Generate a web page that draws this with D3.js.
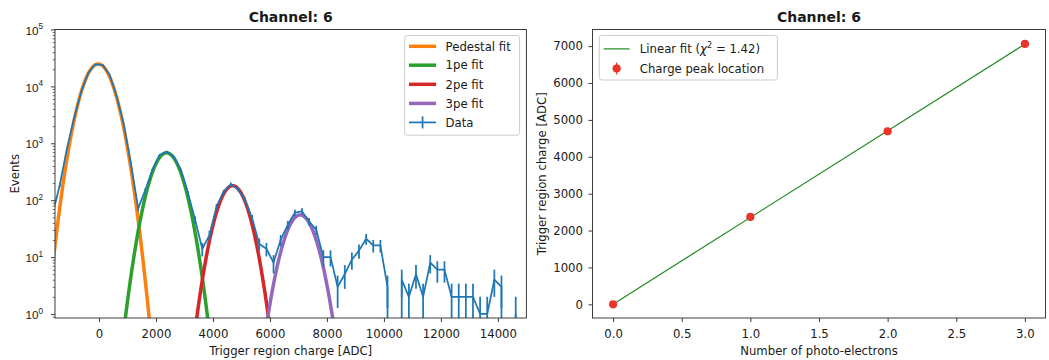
<!DOCTYPE html>
<html>
<head>
<meta charset="utf-8">
<script src="https://cdn.jsdelivr.net/npm/d3@7"></script>
<style>
  html, body { margin: 0; padding: 0; background: #ffffff; }
  svg { display: block; font-family: "DejaVu Sans", sans-serif; }
</style>
</head>
<body>
<svg id="fig" width="1049" height="360"></svg>
<script>
// Trigger region charge histogram: bin centres [ADC] and counts per bin
const binCentres = [
  -1625, -1375, -1125, -875, -625, -375, -125, 125, 375, 625, 875, 1125, 1375,
  1625, 1875, 2125, 2375, 2625, 2875, 3125, 3375, 3625, 3875, 4125, 4375,
  4625, 4875, 5125, 5375, 5625, 5875, 6125, 6375, 6625, 6875, 7125, 7375,
  7625, 7875, 8125, 8375, 8625, 8875, 9125, 9375, 9625, 9875, 10125, 10375,
  10625, 10875, 11125, 11375, 11625, 11875, 12125, 12375, 12625, 12875, 13125,
  13375, 13625, 13875, 14125, 14375, 14625
];
const binCounts = [
  58, 185, 810, 2750, 8000, 17300, 24500, 24000, 15800, 6600, 2100, 420, 72,
  150, 340, 620, 710, 580, 340, 133, 45, 14, 24, 77, 141,
  190, 156, 101, 48, 17, 14, 8, 20, 37, 60, 64, 42,
  30, 10, 10, 3, 5, 9, 13, 21, 16, 16, 3, 0,
  4, 2, 5, 2, 8, 6, 6, 2, 2, 2, 2,
  1, 1, 4, 3, 0, 1
];

// Gaussian fit results for the pedestal and the photo-electron peaks
const fitLabels     = ["Pedestal fit", "1pe fit", "2pe fit", "3pe fit"];
const fitAmplitudes = [24800, 680, 180, 55];
const fitMeans      = [-30, 2370, 4690, 7060];
const fitSigmas     = [395, 395, 385, 395];

// Fitted peak location versus number of photo-electrons
const photoElectrons = [0, 1, 2, 3];
const peakPositions  = [0, 2370, 4690, 7060];
const peakErrors     = [15, 20, 25, 35];
const chiSquare      = 1.42;

// Axis ticks
const histXTicks = [0, 2000, 4000, 6000, 8000, 10000, 12000, 14000];
const histYTicks = [1, 10, 100, 1000, 10000, 100000];
const peXTicks   = [0, 0.5, 1, 1.5, 2, 2.5, 3];
const peYTicks   = [0, 1000, 2000, 3000, 4000, 5000, 6000, 7000];

const COLORS = {
  data: "#1f77b4",
  fits: ["#ff7f0e", "#2ca02c", "#d62728", "#9467bd"],
  linFit: "#1e8a1e",
  peaks: "#e8342a",
  spine: "#333333",
  text: "#1a1a1a"
};
const FS = 11.7;          // tick / label / legend font size
const TITLE_FS = 14;
const svg = d3.select("#fig");

// ---------- shared helpers ----------
function styleAxis(g) {
  g.select(".domain").remove();
  g.selectAll(".tick line").attr("stroke", COLORS.spine).attr("stroke-width", 0.95);
  g.selectAll(".tick text")
    .attr("fill", COLORS.text)
    .style("font-size", FS + "px")
    .style("font-family", "'DejaVu Sans', sans-serif");
}

function frame(x0, y0, x1, y1) {
  svg.append("rect")
    .attr("x", x0).attr("y", y0)
    .attr("width", x1 - x0).attr("height", y1 - y0)
    .attr("fill", "none")
    .attr("stroke", COLORS.spine)
    .attr("stroke-width", 0.95);
}

function legendBox(x, y, w, h) {
  svg.append("rect")
    .attr("x", x).attr("y", y).attr("width", w).attr("height", h)
    .attr("rx", 2.5).attr("ry", 2.5)
    .attr("fill", "#ffffff").attr("fill-opacity", 0.8)
    .attr("stroke", "#cccccc").attr("stroke-width", 1);
}

function label(text, x, y, opts = {}) {
  const t = svg.append("text")
    .attr("x", x).attr("y", y)
    .attr("fill", COLORS.text)
    .attr("text-anchor", opts.anchor || "middle")
    .style("font-size", (opts.size || FS) + "px");
  if (opts.bold) t.style("font-weight", "bold");
  if (opts.rotate) t.attr("transform", `rotate(-90, ${x}, ${y})`);
  t.text(text);
  return t;
}

// =====================================================================
// Left panel: charge spectrum with Gaussian fits (log scale)
// =====================================================================
const L = { x0: 55, x1: 526.4, y0: 29.5, y1: 318 };
const hx = d3.scaleLinear().domain([-1544, 15000]).range([L.x0, L.x1]);
const hy = d3.scaleLog().domain([0.85, 1e5]).range([L.y1, L.y0]);

svg.append("clipPath").attr("id", "clipL")
  .append("rect")
  .attr("x", L.x0).attr("y", L.y0)
  .attr("width", L.x1 - L.x0).attr("height", L.y1 - L.y0);

const plotL = svg.append("g").attr("clip-path", "url(#clipL)");
const BELOW = 1e4;   // far below the axis: empty bins drop off the log scale

// fit curves
const [xMin, xMax] = hx.domain();
const sampleX = d3.range(xMin - 100, xMax + 100, 8);
fitLabels.forEach((name, i) => {
  const curve = sampleX.map(x => {
    const v = fitAmplitudes[i] * Math.exp(-((x - fitMeans[i]) ** 2) / (2 * fitSigmas[i] ** 2));
    return [hx(x), v > 1e-6 ? hy(v) : BELOW];
  });
  plotL.append("path")
    .attr("d", d3.line()(curve))
    .attr("fill", "none")
    .attr("stroke", COLORS.fits[i])
    .attr("stroke-width", 3.5)
    .attr("stroke-linejoin", "round");
});

// data line
const dataPts = binCentres.map((c, i) => [hx(c), binCounts[i] > 0 ? hy(binCounts[i]) : BELOW]);
plotL.append("path")
  .attr("d", d3.line()(dataPts))
  .attr("fill", "none")
  .attr("stroke", COLORS.data)
  .attr("stroke-width", 1.75)
  .attr("stroke-linejoin", "round");

// Poisson error bars
binCentres.forEach((c, i) => {
  const n = binCounts[i];
  if (n <= 0) return;
  const e = Math.sqrt(n);
  const lo = n - e, hi = n + e;
  plotL.append("line")
    .attr("x1", hx(c)).attr("x2", hx(c))
    .attr("y1", lo > 0 ? hy(lo) : BELOW)
    .attr("y2", hy(hi))
    .attr("stroke", COLORS.data)
    .attr("stroke-width", 1.75);
});

// axes
const axXL = svg.append("g").attr("transform", `translate(0,${L.y1})`)
  .call(d3.axisBottom(hx).tickValues(histXTicks).tickSize(4).tickPadding(7.2)
    .tickFormat(d3.format("d")));
styleAxis(axXL);

const minorY = hy.ticks().filter(v => Math.abs(Math.log10(v) - Math.round(Math.log10(v))) > 1e-6);
const axYLminor = svg.append("g").attr("transform", `translate(${L.x0},0)`)
  .call(d3.axisLeft(hy).tickValues(minorY).tickSize(2.3).tickFormat(""));
styleAxis(axYLminor);
axYLminor.selectAll(".tick line").attr("stroke-width", 0.7);

const axYL = svg.append("g").attr("transform", `translate(${L.x0},0)`)
  .call(d3.axisLeft(hy).tickValues(histYTicks).tickSize(4).tickFormat(""));
styleAxis(axYL);
axYL.selectAll(".tick").each(function (d) {
  const t = d3.select(this).append("text")
    .attr("x", -12).attr("y", 4.6)
    .attr("text-anchor", "end")
    .attr("fill", COLORS.text)
    .style("font-size", FS + "px");
  t.append("tspan").text("10");
  t.append("tspan").attr("dy", -5.2).style("font-size", (FS * 0.7) + "px")
    .text(String(Math.round(Math.log10(d))));
});

frame(L.x0, L.y0, L.x1, L.y1);

label("Channel: 6", (L.x0 + L.x1) / 2, 22, { bold: true, size: TITLE_FS });
label("Trigger region charge [ADC]", (L.x0 + L.x1) / 2, 354.5);
label("Events", 18.5, (L.y0 + L.y1) / 2, { rotate: true });

// legend
const LG = { x: 404.7, y: 35.5, w: 114.9, h: 99.7, hx0: 409, hx1: 436.1, tx: 445.6,
             rows: [46.3, 65.2, 84.3, 103.4, 122.4] };
legendBox(LG.x, LG.y, LG.w, LG.h);
fitLabels.forEach((name, i) => {
  svg.append("line")
    .attr("x1", LG.hx0).attr("x2", LG.hx1)
    .attr("y1", LG.rows[i]).attr("y2", LG.rows[i])
    .attr("stroke", COLORS.fits[i]).attr("stroke-width", 3.5);
  label(name, LG.tx, LG.rows[i] + 4.2, { anchor: "start" });
});
{
  const ry = LG.rows[4], cx = (LG.hx0 + LG.hx1) / 2;
  svg.append("line").attr("x1", LG.hx0).attr("x2", LG.hx1).attr("y1", ry).attr("y2", ry)
    .attr("stroke", COLORS.data).attr("stroke-width", 1.75);
  svg.append("line").attr("x1", cx).attr("x2", cx).attr("y1", ry - 6).attr("y2", ry + 6)
    .attr("stroke", COLORS.data).attr("stroke-width", 1.75);
  label("Data", LG.tx, ry + 4.2, { anchor: "start" });
}

// =====================================================================
// Right panel: peak position versus number of photo-electrons
// =====================================================================
const R = { x0: 592.5, x1: 1045.5, y0: 29.5, y1: 318 };
const pxScale = d3.scaleLinear().domain([-0.15, 3.15]).range([R.x0, R.x1]);
const yLo = d3.min(peakPositions, (v, i) => v - peakErrors[i]);
const yHi = d3.max(peakPositions, (v, i) => v + peakErrors[i]);
const yPad = 0.05 * (yHi - yLo);
const pyScale = d3.scaleLinear().domain([yLo - yPad, yHi + yPad]).range([R.y1, R.y0]);

// least-squares straight line through the peak positions
const mx = d3.mean(photoElectrons), my = d3.mean(peakPositions);
const slope = d3.sum(photoElectrons, (x, i) => (x - mx) * (peakPositions[i] - my)) /
              d3.sum(photoElectrons, x => (x - mx) ** 2);
const intercept = my - slope * mx;
const fitEnds = d3.extent(photoElectrons);

svg.append("line")
  .attr("x1", pxScale(fitEnds[0])).attr("y1", pyScale(intercept + slope * fitEnds[0]))
  .attr("x2", pxScale(fitEnds[1])).attr("y2", pyScale(intercept + slope * fitEnds[1]))
  .attr("stroke", COLORS.linFit).attr("stroke-width", 1.2);

photoElectrons.forEach((n, i) => {
  svg.append("line")
    .attr("x1", pxScale(n)).attr("x2", pxScale(n))
    .attr("y1", pyScale(peakPositions[i] - peakErrors[i]))
    .attr("y2", pyScale(peakPositions[i] + peakErrors[i]))
    .attr("stroke", COLORS.peaks).attr("stroke-width", 1.2);
  svg.append("circle")
    .attr("cx", pxScale(n)).attr("cy", pyScale(peakPositions[i]))
    .attr("r", 4.1).attr("fill", COLORS.peaks);
});

const axXR = svg.append("g").attr("transform", `translate(0,${R.y1})`)
  .call(d3.axisBottom(pxScale).tickValues(peXTicks).tickSize(4).tickPadding(7.2)
    .tickFormat(d3.format(".1f")));
styleAxis(axXR);

const axYR = svg.append("g").attr("transform", `translate(${R.x0},0)`)
  .call(d3.axisLeft(pyScale).tickValues(peYTicks).tickSize(4).tickPadding(5.5)
    .tickFormat(d3.format("d")));
styleAxis(axYR);

frame(R.x0, R.y0, R.x1, R.y1);

label("Channel: 6", (R.x0 + R.x1) / 2, 22, { bold: true, size: TITLE_FS });
label("Number of photo-electrons", (R.x0 + R.x1) / 2, 354.5);
label("Trigger region charge [ADC]", 545.5, (R.y0 + R.y1) / 2, { rotate: true });

// legend
const RG = { x: 599.3, y: 35.4, w: 178.1, h: 44.6, hx0: 603.7, hx1: 629.6, tx: 639.8,
             rows: [48.9, 68.5] };
legendBox(RG.x, RG.y, RG.w, RG.h);
svg.append("line")
  .attr("x1", RG.hx0).attr("x2", RG.hx1).attr("y1", RG.rows[0]).attr("y2", RG.rows[0])
  .attr("stroke", COLORS.linFit).attr("stroke-width", 1.2);
{
  const t = svg.append("text")
    .attr("x", RG.tx).attr("y", RG.rows[0] + 4.2)
    .attr("fill", COLORS.text).style("font-size", FS + "px");
  t.append("tspan").text("Linear fit (");
  t.append("tspan").style("font-style", "italic").text("\u03C7");
  t.append("tspan").attr("dy", -5).style("font-size", (FS * 0.7) + "px").text("2");
  t.append("tspan").attr("dy", 5).text(` = ${chiSquare.toFixed(2)})`);
}
{
  const ry = RG.rows[1], cx = (RG.hx0 + RG.hx1) / 2;
  svg.append("line").attr("x1", cx).attr("x2", cx).attr("y1", ry - 6).attr("y2", ry + 6)
    .attr("stroke", COLORS.peaks).attr("stroke-width", 1.2);
  svg.append("circle").attr("cx", cx).attr("cy", ry).attr("r", 4.1).attr("fill", COLORS.peaks);
  label("Charge peak location", RG.tx, ry + 4.2, { anchor: "start" });
}
</script>
</body>
</html>
